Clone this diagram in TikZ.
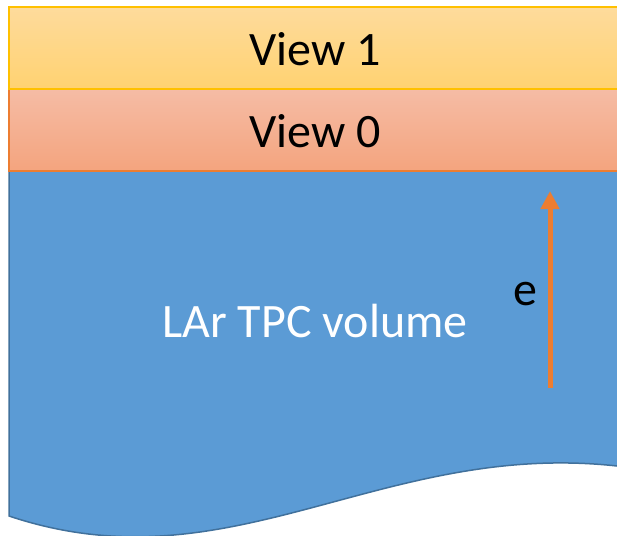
\documentclass[tikz,border=0pt]{standalone}
\usepackage{fontspec}
\setmainfont{Carlito}
\usetikzlibrary{arrows.meta}
\definecolor{vonetop}{HTML}{FEDB9C}
\definecolor{vonebot}{HTML}{FFD271}
\definecolor{vonebd}{HTML}{FFC000}
\definecolor{vzerotop}{HTML}{F5BCA5}
\definecolor{vzerobot}{HTML}{F4A47E}
\definecolor{vzerobd}{HTML}{ED7D31}
\definecolor{lar}{HTML}{5B9BD5}
\definecolor{larbd}{HTML}{41719C}
\definecolor{arr}{HTML}{ED7D31}
\begin{document}
\begin{tikzpicture}[x=1pt,y=-1pt,
  lbl/.style={font=\fontsize{48}{52}\selectfont, inner sep=0pt},
  larstyle/.style={fill=lar, draw=larbd, line width=1.5pt}]
\useasboundingbox (0,0) rectangle (617,535);
\clip (0,0) rectangle (617,535);
% LAr volume
\draw[larstyle] (9,171) -- (630,171) -- (630,466) -- (617,466)
  .. controls (380,440) and (230,590) .. (9,516) -- cycle;
% View 0
\draw[top color=vzerotop, bottom color=vzerobot, draw=vzerobd, line width=1.5pt]
  (9,89) rectangle (630,171);
% View 1
\draw[top color=vonetop, bottom color=vonebot, draw=vonebd, line width=1.5pt]
  (9,7) rectangle (630,89);
\node[lbl] (v1) at (315,49) {View 1};
\node[lbl] (v0) at (315,131) {View 0};
\node[lbl, text=white] (vol) at (315,321) {LAr TPC volume};
\coordinate (abot) at (550,388);
\coordinate (atop) at (550,191);
\draw[arr, line width=5pt, -{Triangle[length=18pt,width=18pt]}] (abot) -- (atop);
\node[lbl] (e) at (525,294) {e};
\end{tikzpicture}
\end{document}
